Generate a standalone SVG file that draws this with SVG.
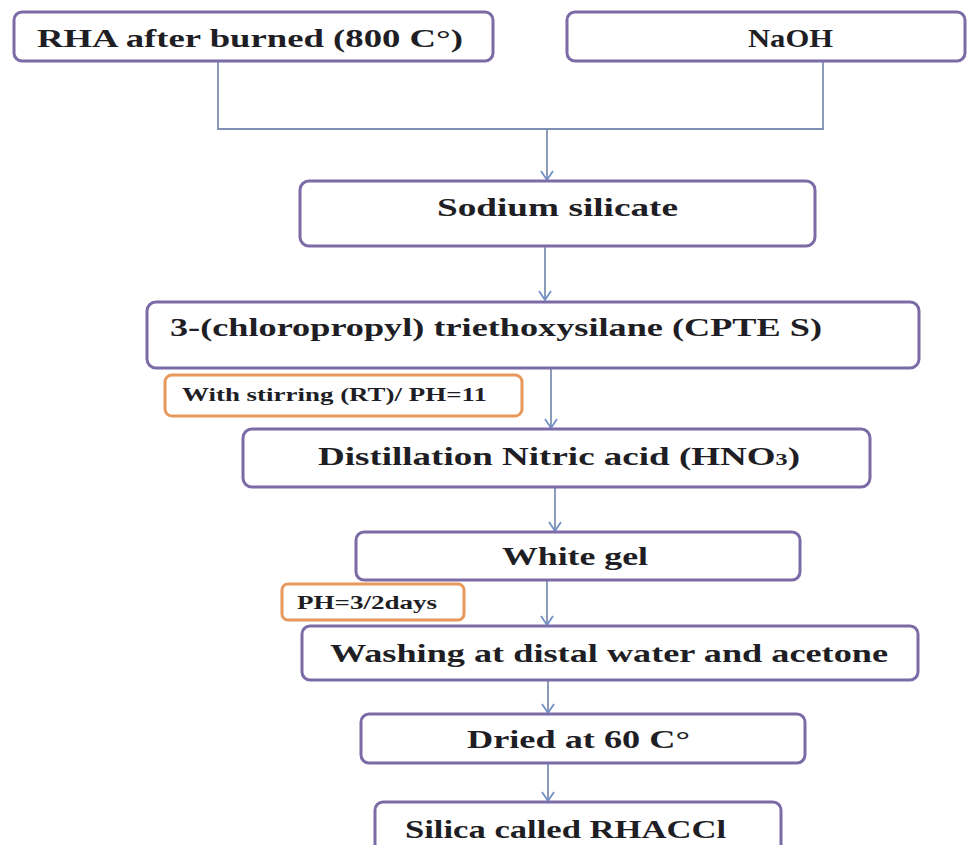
<svg xmlns="http://www.w3.org/2000/svg" width="968" height="845" viewBox="0 0 968 845">
<style>
.box{fill:#fff;stroke:#7b6ba6;stroke-width:3}
.note{fill:#fff;stroke:#e8985a;stroke-width:3}
.t{font-family:"Liberation Serif","Times New Roman",serif;font-weight:bold;fill:#1e1e24;font-size:26px}
.s{font-family:"Liberation Serif","Times New Roman",serif;font-weight:bold;fill:#1e1e24;font-size:18px}
.c{fill:none;stroke:#8090b4;stroke-width:1.8}
</style>
<defs>
<marker id="arr" markerWidth="12" markerHeight="14" refX="10" refY="7" orient="auto" markerUnits="userSpaceOnUse" viewBox="0 0 12 14">
<polyline points="1,1 10,7 1,13" fill="none" stroke="#7090c8" stroke-width="1.8"/>
</marker>
</defs>
<rect width="968" height="845" fill="#fff"/>
<g id="connectors">
<path class="c" d="M218,61 V129 H823 V61"/>
<path class="c" d="M547,129 V180" marker-end="url(#arr)"/>
<path class="c" d="M545,247 V300" marker-end="url(#arr)"/>
<path class="c" d="M551,368 V428" marker-end="url(#arr)"/>
<path class="c" d="M555,487 V531" marker-end="url(#arr)"/>
<path class="c" d="M547,580 V625" marker-end="url(#arr)"/>
<path class="c" d="M548,680 V713" marker-end="url(#arr)"/>
<path class="c" d="M548,763 V801" marker-end="url(#arr)"/>
</g>
<g id="n-rha">
<rect class="box" x="14" y="12" width="479" height="49" rx="8"/>
<text class="t" x="37" y="47" textLength="426" lengthAdjust="spacingAndGlyphs">RHA after burned (800 C°)</text>
</g>
<g id="n-naoh">
<rect class="box" x="567" y="12" width="398" height="49" rx="8"/>
<text class="t" x="748" y="47" textLength="85" lengthAdjust="spacingAndGlyphs">NaOH</text>
</g>
<g id="n-sodium">
<rect class="box" x="300" y="181" width="515" height="65" rx="9"/>
<text class="t" x="437" y="216" textLength="241" lengthAdjust="spacingAndGlyphs">Sodium silicate</text>
</g>
<g id="n-cptes">
<rect class="box" x="147" y="302" width="772" height="66" rx="9"/>
<text class="t" x="170" y="336" textLength="652" lengthAdjust="spacingAndGlyphs">3-(chloropropyl) triethoxysilane (CPTE S)</text>
</g>
<g id="n-stir">
<rect class="note" x="165" y="375" width="357" height="41" rx="7"/>
<text class="s" x="182" y="401" textLength="305" lengthAdjust="spacingAndGlyphs">With stirring (RT)/ PH=11</text>
</g>
<g id="n-hno3">
<rect class="box" x="243" y="429" width="627" height="58" rx="9"/>
<text class="t" x="318" y="465" textLength="482" lengthAdjust="spacingAndGlyphs">Distillation Nitric acid (HNO<tspan font-size="17px">3</tspan>)</text>
</g>
<g id="n-gel">
<rect class="box" x="356" y="532" width="444" height="48" rx="8"/>
<text class="t" x="502" y="565" textLength="146" lengthAdjust="spacingAndGlyphs">White gel</text>
</g>
<g id="n-ph3">
<rect class="note" x="282" y="584" width="182" height="36" rx="6"/>
<text class="s" x="297" y="609" textLength="140" lengthAdjust="spacingAndGlyphs">PH=3/2days</text>
</g>
<g id="n-wash">
<rect class="box" x="302" y="626" width="616" height="54" rx="8"/>
<text class="t" x="330" y="662" textLength="558" lengthAdjust="spacingAndGlyphs">Washing at distal water and acetone</text>
</g>
<g id="n-dried">
<rect class="box" x="361" y="714" width="444" height="49" rx="8"/>
<text class="t" x="467" y="748" textLength="223" lengthAdjust="spacingAndGlyphs">Dried at 60 C°</text>
</g>
<g id="n-silica">
<rect class="box" x="375" y="802" width="406" height="52" rx="8"/>
<text class="t" x="405" y="838" textLength="321" lengthAdjust="spacingAndGlyphs">Silica called RHACCl</text>
</g>
</svg>
